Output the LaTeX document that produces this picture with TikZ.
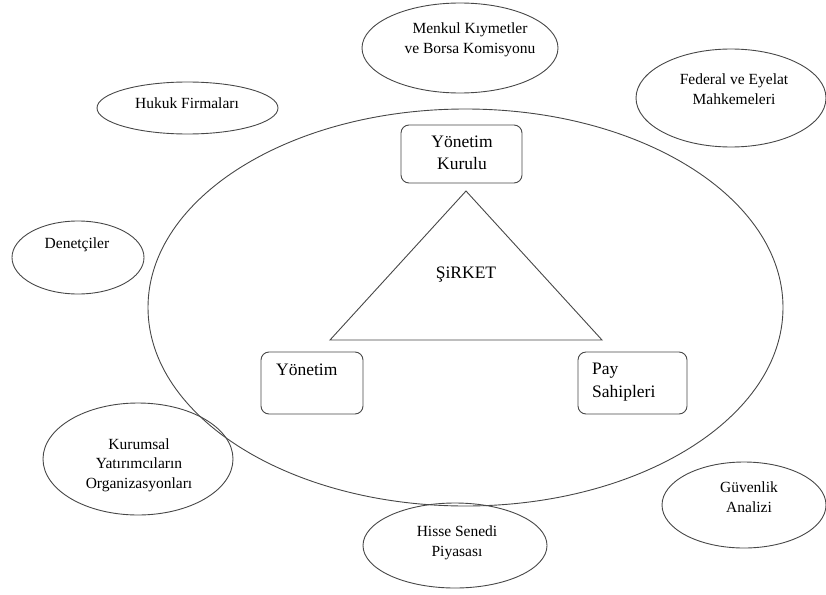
\documentclass[tikz,border=0pt]{standalone}
\usepackage{fontspec}
\setmainfont{Liberation Serif}
\usetikzlibrary{shapes.geometric}

\tikzset{
  outline/.style={draw=black!72, line width=0.9pt},
  party/.style={outline, ellipse, inner sep=0pt},
  rolebox/.style={outline, rectangle, rounded corners=8pt, inner sep=0pt},
  smalltext/.style={align=center, inner sep=0pt, font=\fontsize{15.5}{19.5}\selectfont},
  boxtext/.style={inner sep=0pt, font=\fontsize{17.5}{22.5}\selectfont}
}

\begin{document}
\begin{tikzpicture}[x=1pt, y=-1pt]
  \useasboundingbox (0,0) rectangle (826,594);

  % the company and its surroundings
  \node[party, minimum width=635pt, minimum height=397pt] (firm) at (465.5,307.5) {};

  % outside parties
  \node[party, minimum width=196pt, minimum height=90pt] (sec) at (460,48) {};
  \node[smalltext] (secT) at (470,40) {Menkul Kıymetler\\ve Borsa Komisyonu};

  \node[party, minimum width=190pt, minimum height=98pt] (court) at (731,98) {};
  \node[smalltext] (courtT) at (734,89) {Federal ve Eyelat\\Mahkemeleri};

  \node[party, minimum width=181pt, minimum height=52pt] (law) at (187.5,108) {};
  \node[smalltext] (lawT) at (187,103) {Hukuk Firmaları};

  \node[party, minimum width=132pt, minimum height=73pt] (audit) at (78,257.5) {};
  \node[smalltext] (auditT) at (77,245) {Denetçiler};

  \node[party, minimum width=190pt, minimum height=112pt] (inst) at (138,459) {};
  \node[smalltext] (instT) at (139,465) {Kurumsal\\Yatırımcıların\\Organizasyonları};

  \node[party, minimum width=184pt, minimum height=85pt] (market) at (455,545.5) {};
  \node[smalltext] (marketT) at (457,543) {Hisse Senedi\\Piyasası};

  \node[party, minimum width=164pt, minimum height=86pt] (sa) at (744,505) {};
  \node[smalltext] (saT) at (749,497) {Güvenlik\\Analizi};

  % governance boxes
  \node[rolebox, minimum width=121pt, minimum height=58pt] (board) at (461.5,154) {};
  \node[boxtext, align=center] (boardT) at (462,153) {Yönetim\\Kurulu};

  \node[rolebox, minimum width=102pt, minimum height=62pt] (mgmt) at (312,383) {};
  \node[boxtext, anchor=west] (mgmtT) at (276,370) {Yönetim};

  \node[rolebox, minimum width=109pt, minimum height=62pt] (share) at (632.5,383) {};
  \node[boxtext, align=left, anchor=west] (shareT) at (592,382) {Pay\\Sahipleri};

  % the company triangle
  \coordinate (apex) at (466,191);
  \coordinate (baseL) at (330,340);
  \coordinate (baseR) at (602,340);
  \draw[outline, line join=miter] (apex) -- (baseL) -- (baseR) -- cycle;
  \node[boxtext] (company) at (466,275) {ŞiRKET};
\end{tikzpicture}
\end{document}
